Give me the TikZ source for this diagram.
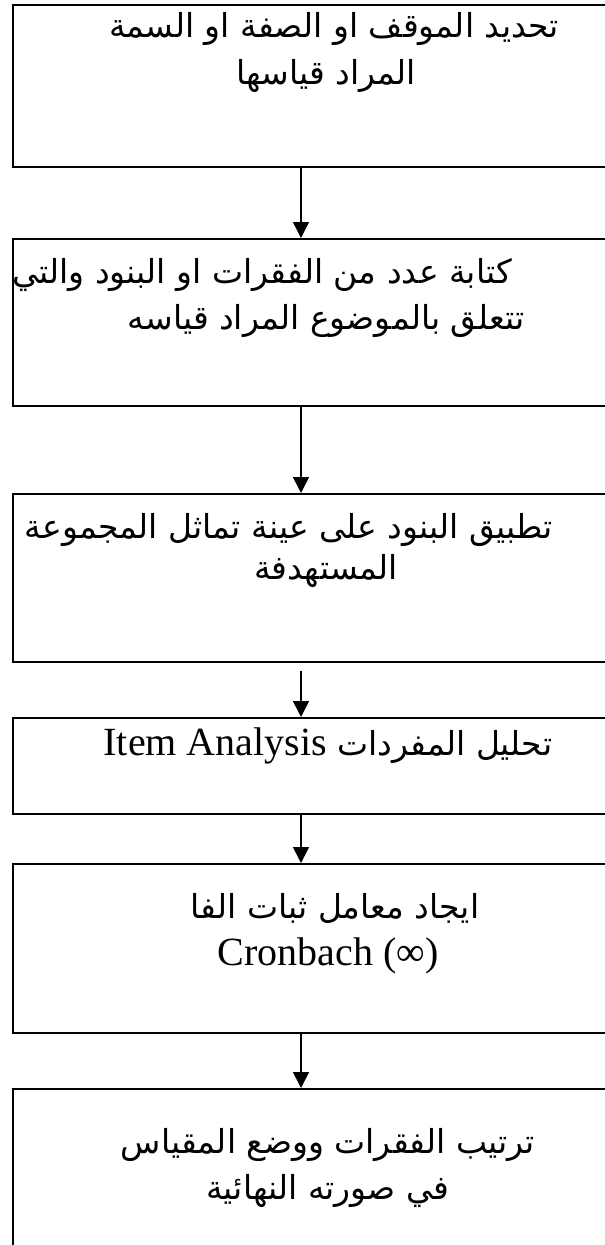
\documentclass[tikz,border=0pt]{standalone}
\usepackage{fontspec}
\setmainfont{Liberation Serif}
\newfontfamily\arabicfont[Script=Arabic]{DejaVu Sans}
\TeXXeTstate=1
\usetikzlibrary{arrows.meta}

\begin{document}
\begin{tikzpicture}[x=1pt, y=-1pt,
    box/.style={draw, line width=1.8pt, rectangle, anchor=north west, minimum width=640pt, inner sep=0pt},
    arr/.style={line width=1.5pt, -{Triangle[width=16pt,length=16pt]}},
    ar/.style={inner sep=0pt, font=\arabicfont\fontsize{33}{38}\selectfont},
    lat/.style={inner sep=0pt, font=\fontsize{40}{46}\selectfont}]
\useasboundingbox (0,0) rectangle (605,1245);
\clip (0,0) rectangle (605,1245);

% Draw the six boxes
\node[box, minimum height=162pt] (box1) at (12,4) {};
\node[box, minimum height=167pt] (box2) at (12,238) {};
\node[box, minimum height=168pt] (box3) at (12,493) {};
\node[box, minimum height=96pt] (box4) at (12,717) {};
\node[box, minimum height=169pt] (box5) at (12,863) {};
\node[box, minimum height=200pt] (box6) at (12,1088) {};

% The texts, line by line
\node[ar] (t1a) at (334,29) {\beginR تحديد الموقف او الصفة او السمة\endR};
\node[ar] (t1b) at (326,76) {\beginR المراد قياسها\endR};
\node[ar, anchor=east] (t2a) at (512,275) {\beginR كتابة عدد من الفقرات او البنود والتي\endR};
\node[ar] (t2b) at (326,321) {\beginR تتعلق بالموضوع المراد قياسه\endR};
\node[ar] (t3a) at (289,530) {\beginR تطبيق البنود على عينة تماثل المجموعة\endR};
\node[ar] (t3b) at (326,571) {\beginR المستهدفة\endR};
\node[ar] (t4) at (328,746) {\beginR تحليل المفردات {\rmfamily\fontsize{40}{46}\selectfont\beginL Item Analysis\endL}\endR};
\node[ar] (t5a) at (335,908) {\beginR ايجاد معامل ثبات الفا\endR};
\node[lat] (t5b) at (328,956) {Cronbach (∞)};
\node[ar] (t6a) at (328,1145) {\beginR ترتيب الفقرات ووضع المقياس\endR};
\node[ar] (t6b) at (328,1191) {\beginR في صورته النهائية\endR};

% Draw the arrows between the boxes
\coordinate (ax) at (301,0);
\draw[arr] (box1.south -| ax) -- (box2.north -| ax);
\draw[arr] (box2.south -| ax) -- (box3.north -| ax);
\draw[arr] ([yshift=-8pt]box3.south -| ax) -- (box4.north -| ax);
\draw[arr] (box4.south -| ax) -- (box5.north -| ax);
\draw[arr] (box5.south -| ax) -- (box6.north -| ax);
\end{tikzpicture}
\end{document}
